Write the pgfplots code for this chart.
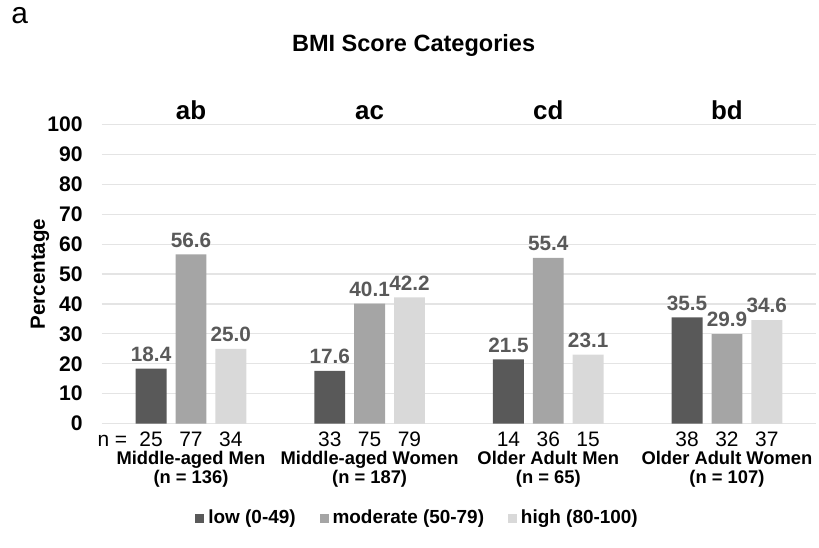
\documentclass[border=0pt]{standalone}
\usepackage{fontspec}
\setmainfont{Liberation Sans}
\usepackage{pgfplots}
\pgfplotsset{compat=1.18}
\usepackage{pgfplotstable}

\definecolor{lowc}{HTML}{595959}
\definecolor{modc}{HTML}{A5A5A5}
\definecolor{highc}{HTML}{D9D9D9}
\definecolor{gridc}{HTML}{E4E4E4}
\definecolor{valc}{HTML}{595959}

% percentages per group (0 = middle-aged men, ..., 3 = older adult women)
\pgfplotstableread{
x low moderate high
0 18.4 56.6 25.0
1 17.6 40.1 42.2
2 21.5 55.4 23.1
3 35.5 29.9 34.6
}\bmidata

\newcommand{\counts}[4][]{{\fontsize{10.5}{10}\selectfont#1\makebox[20pt]{#2}\makebox[20pt]{#3}\makebox[20pt]{#4}}}

\begin{document}
\begin{tikzpicture}
\begin{axis}[
    at={(0pt,0pt)}, anchor=south west,
    scale only axis, width=358.5pt, height=150pt,
    ybar=4.5pt, bar width=15.5pt,
    xmin=-0.5, xmax=3.5, ymin=0, ymax=100,
    ytick={0,10,...,100},
    xtick={0,1,2,3},
    xticklabels={
        {\counts[\llap{n =\hspace{2pt}}]{25}{77}{34}\\\textbf{Middle-aged Men}\\\textbf{(n = 136)}},
        {\counts{33}{75}{79}\\\textbf{Middle-aged Women}\\\textbf{(n = 187)}},
        {\counts{14}{36}{15}\\\textbf{Older Adult Men}\\\textbf{(n = 65)}},
        {\counts{38}{32}{37}\\\textbf{Older Adult Women}\\\textbf{(n = 107)}}},
    axis line style={draw=none},
    major tick length=0pt,
    ymajorgrids, grid style={gridc, line width=0.6pt},
    clip=false,
    /pgf/number format/assume math mode=true,
    yticklabel style={font=\fontsize{10.6}{12}\selectfont\bfseries, xshift=-6pt},
    xticklabel style={align=center, font=\fontsize{9.2}{9.3}\selectfont, yshift=-0.5pt},
    nodes near coords,
    every node near coord/.append style={font=\fontsize{10.4}{12}\selectfont\bfseries, text=valc,
        /pgf/number format/fixed, /pgf/number format/fixed zerofill, /pgf/number format/precision=1},
    every axis y label/.style={at={(axis description cs:0,0.5)}, xshift=-31pt, rotate=90, anchor=center,
        font=\fontsize{10.3}{12}\selectfont\bfseries},
    ylabel={Percentage},
    legend style={at={(rel axis cs:0.4435,-0.317)}, anchor=center, draw=none, legend columns=-1,
        font=\fontsize{9.5}{11}\selectfont\bfseries,
        /tikz/every even column/.append style={column sep=10pt}},
    legend image code/.code={\fill[#1] (0pt,-2.25pt) rectangle (4.5pt,2.25pt);},
]
\addplot[fill=lowc, draw=none] table[x=x, y=low] {\bmidata};
\addplot[fill=modc, draw=none] table[x=x, y=moderate] {\bmidata};
\addplot[fill=highc, draw=none] table[x=x, y=high] {\bmidata};
\legend{low (0-49), moderate (50-79), high (80-100)}

\node[anchor=base, yshift=2.5pt, font=\fontsize{13}{15}\selectfont\bfseries] at (axis cs:0,100) {ab};
\node[anchor=base, yshift=2.5pt, font=\fontsize{13}{15}\selectfont\bfseries] at (axis cs:1,100) {ac};
\node[anchor=base, yshift=2.5pt, font=\fontsize{13}{15}\selectfont\bfseries] at (axis cs:2,100) {cd};
\node[anchor=base, yshift=2.5pt, font=\fontsize{13}{15}\selectfont\bfseries] at (axis cs:3,100) {bd};
\end{axis}
\node[anchor=base west, inner sep=0pt, font=\fontsize{15}{17}\selectfont] at (-45.5pt,200.8pt) {a};
\node[anchor=base, inner sep=0pt, font=\fontsize{11.8}{14}\selectfont\bfseries] at (156.5pt,186.5pt) {BMI Score Categories};
\path (-51pt,-62pt) rectangle (358.5pt,212.5pt);
\end{tikzpicture}
\end{document}
